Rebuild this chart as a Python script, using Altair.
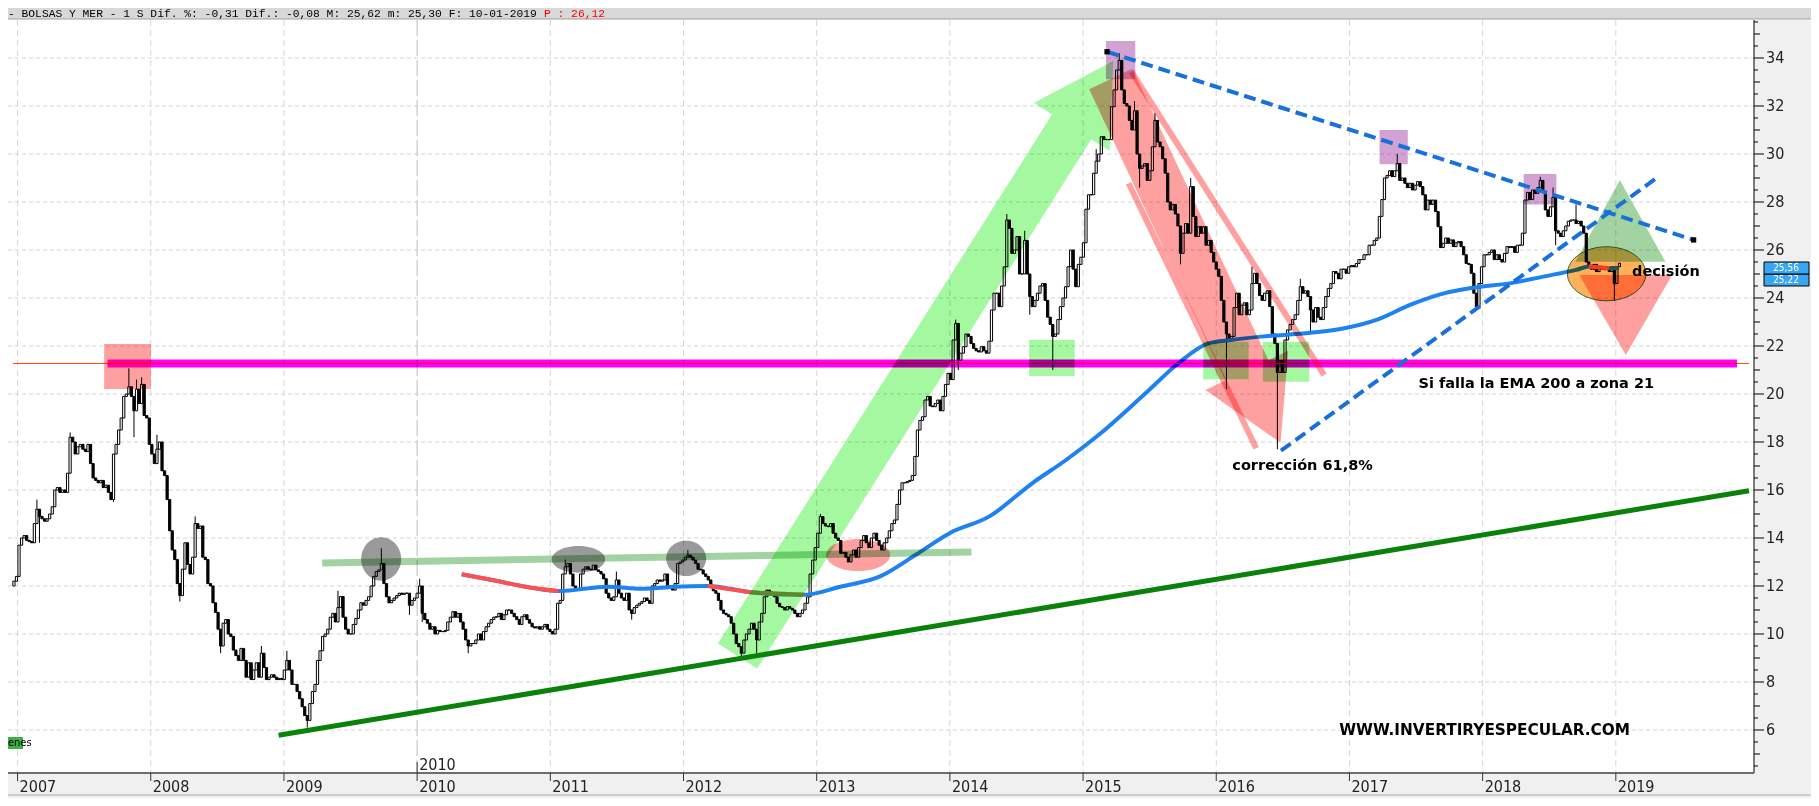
import altair as alt
import numpy as np
import pandas as pd

# ---------------- weekly closes (Fridays, first bar 2006-12-22) ----------------
wk_a = [  # weeks 0-129
    12.2, 12.4, 13.7, 14.0, 14.1, 13.9, 13.85, 13.8, 14.6, 15.2,
    14.9, 14.8, 14.7, 14.8, 15.0, 15.3, 16.0, 16.1, 15.9, 16.0,
    15.9, 16.7, 18.2, 18.0, 17.5, 17.8, 17.9, 17.7, 17.6, 17.9,
    17.1, 16.5, 16.4, 16.3, 16.4, 16.1, 16.2, 15.9, 15.6, 17.5,
    17.9, 18.5, 19.0, 19.9, 20.0, 20.3, 19.9, 19.3, 20.2, 19.6,
    20.4, 19.1, 19.0, 17.9, 17.5, 17.1, 17.7, 18.0, 16.8, 16.6,
    15.6, 14.3, 13.5, 13.1, 12.1, 11.6, 12.7, 13.8, 12.9, 12.5,
    13.2, 14.6, 14.4, 14.5, 13.2, 13.1, 12.1, 12.0, 11.3, 10.9,
    10.2, 9.5, 10.45, 10.6, 10.0, 9.9, 9.33, 9.1, 8.9, 9.4,
    8.9, 8.2, 8.8, 8.1, 8.5, 8.8, 8.2, 9.2, 8.6, 8.1,
    8.2, 8.3, 8.2, 8.1, 8.15, 8.1, 8.5, 8.9, 8.5, 7.9,
    7.9, 7.6, 7.3, 6.97, 6.6, 6.4, 7.1, 7.6, 7.9, 8.9,
    9.3, 9.9, 10.0, 10.2, 10.7, 10.86, 10.5, 11.1, 11.56, 10.7,
]
wk_b = [  # weeks 130-259
    10.2, 10.0, 10.0, 10.4, 10.65, 11.0, 11.3, 11.2, 11.4, 11.55,
    12.0, 12.4, 12.6, 12.67, 12.94, 12.1, 11.55, 11.3, 11.4, 11.5,
    11.6, 11.7, 11.65, 11.7, 11.7, 11.2, 11.4, 11.5, 11.7, 12.0,
    10.86, 10.6, 10.45, 10.2, 10.3, 10.0, 10.15, 10.1, 10.1, 10.15,
    10.5, 10.7, 10.93, 10.7, 10.86, 10.5, 10.2, 9.75, 9.5, 9.6,
    9.6, 9.75, 10.0, 9.75, 10.1, 10.3, 10.45, 10.6, 10.7, 10.72,
    10.86, 10.6, 10.8, 11.0, 11.0, 10.86, 10.72, 10.6, 10.4, 10.72,
    10.8, 10.6, 10.45, 10.3, 10.25, 10.3, 10.2, 10.3, 10.4, 10.2,
    10.1, 10.0, 10.2, 11.28, 11.4, 12.5, 12.8, 12.94, 12.5, 12.0,
    11.9, 11.83, 12.5, 12.7, 12.8, 12.7, 12.67, 12.87, 12.67, 12.6,
    12.5, 12.3, 11.7, 11.5, 11.4, 11.55, 12.25, 11.7, 11.5, 11.4,
    11.7, 11.0, 10.86, 11.1, 11.2, 11.28, 11.35, 11.5, 11.4, 11.28,
    12.0, 12.1, 12.25, 12.2, 12.25, 12.5, 12.0, 11.9, 11.83, 12.1,
]
wk_c = [  # weeks 260-389
    12.94, 13.0, 13.08, 13.2, 13.29, 13.2, 13.08, 12.94, 12.7, 12.67,
    12.5, 12.4, 12.25, 12.0, 11.8, 11.7, 11.4, 11.0, 10.86, 10.8,
    10.72, 10.45, 10.0, 9.6, 9.47, 9.2, 9.75, 10.0, 10.2, 10.45,
    10.2, 9.75, 10.5, 10.86, 11.55, 11.83, 11.75, 11.7, 11.55, 11.28,
    11.14, 11.1, 11.0, 11.14, 11.07, 11.0, 10.86, 10.72, 10.86, 11.0,
    11.28, 11.55, 12.5, 13.08, 13.6, 14.2, 14.89, 14.6, 14.5, 14.47,
    14.6, 14.2, 14.0, 13.9, 13.36, 13.4, 13.2, 13.0, 13.3, 13.5,
    13.2, 13.6, 13.9, 14.1, 13.8, 13.6, 14.0, 14.2, 13.9, 13.7,
    13.5, 13.8, 14.0, 14.3, 14.6, 14.75, 15.4, 16.0, 16.3, 16.3,
    16.35, 16.4, 16.6, 17.4, 18.5, 18.9, 19.05, 19.75, 19.9, 19.5,
    19.47, 19.6, 19.75, 19.3, 19.9, 20.4, 20.86, 20.6, 22.25, 22.94,
    21.4, 21.7, 21.97, 22.5, 22.4, 22.1, 21.9, 21.8, 21.75, 21.97,
    21.8, 21.7, 22.2, 23.5, 24.2, 24.2, 23.64, 24.5, 25.3, 27.25,
]
wk_d = [  # weeks 390-519
    26.9, 25.86, 26.0, 26.56, 25.0, 25.0, 26.4, 25.0, 24.06, 23.64,
    23.9, 24.2, 24.5, 24.6, 23.9, 23.2, 22.9, 22.4, 22.5, 23.1,
    23.64, 24.0, 24.47, 25.3, 26.0, 25.2, 24.47, 25.4, 25.7, 26.3,
    27.7, 28.3, 28.3, 29.2, 29.7, 30.0, 30.72, 30.6, 30.6, 30.6,
    31.97, 32.67, 33.5, 33.9, 32.67, 32.1, 32.0, 31.4, 31.0, 31.8,
    30.0, 29.4, 29.5, 29.6, 28.9, 29.3, 30.3, 31.4, 30.5, 30.3,
    29.8, 29.2, 28.0, 27.67, 27.9, 27.5, 27.0, 25.86, 26.7, 27.1,
    26.7, 28.64, 27.4, 26.56, 26.97, 26.7, 26.97, 26.2, 26.4, 25.9,
    25.5, 25.2, 24.9, 23.9, 23.0, 22.5, 22.25, 22.4, 23.6, 24.2,
    23.3, 23.7, 23.8, 23.3, 23.5, 24.6, 25.03, 24.6, 24.1, 23.9,
    24.2, 24.3, 23.64, 22.5, 22.1, 20.9, 21.4, 20.9, 22.25, 22.67,
    22.9, 23.1, 23.3, 23.9, 24.47, 24.2, 24.3, 24.06, 23.5, 23.0,
    23.6, 23.2, 23.1, 23.6, 24.06, 24.4, 24.6, 25.1, 25.03, 24.8,
]
wk_e = [  # weeks 520-629
    25.2, 25.2, 25.03, 25.3, 25.35, 25.3, 25.44, 25.6, 25.6, 25.8,
    25.8, 26.2, 26.2, 26.4, 26.5, 27.4, 28.1, 29.0, 29.1, 29.3,
    29.06, 29.3, 29.6, 28.9, 29.0, 28.78, 28.6, 28.78, 28.5, 28.7,
    28.85, 28.64, 28.3, 27.67, 28.08, 27.9, 28.08, 27.6, 26.97, 26.1,
    26.28, 26.5, 26.28, 26.42, 26.14, 26.3, 26.35, 26.14, 25.8, 25.44,
    25.4, 25.03, 24.2, 23.64, 24.6, 25.3, 25.8, 25.8, 25.9, 26.0,
    25.6, 25.8, 25.6, 25.5, 25.86, 26.14, 26.1, 26.14, 25.9, 26.2,
    26.2, 26.7, 28.08, 28.4, 28.1, 28.5, 28.36, 28.6, 28.9, 28.4,
    27.67, 27.4, 27.8, 28.2, 26.8, 26.7, 26.56, 26.8, 27.0, 27.2,
    27.25, 27.25, 27.1, 27.2, 27.0, 26.7, 25.5, 25.3, 25.2, 25.4,
    25.1, 25.3, 25.2, 25.25, 25.2, 25.1, 25.3, 24.6, 25.3, 25.45,
]
first_open = 12.0
hi_week = [9, 22, 45, 48, 50, 56, 71, 97, 107, 127, 144, 159, 216, 236, 264,
           316, 369, 389, 396, 424, 433, 439, 447, 461, 485, 504, 542, 598, 603, 612]
hi_val = [15.6, 18.4, 21.07, 20.6, 20.7, 18.3, 14.9, 9.5, 9.3, 11.8, 13.57, 12.3, 13.1, 12.6, 13.5,
          15.0, 23.1, 27.5, 26.8, 30.2, 34.2, 32.2, 31.7, 29.0, 25.3, 24.8, 30.0, 29.05, 28.6, 27.9]
lo_week = [10, 39, 47, 65, 81, 115, 155, 160, 178, 242, 285, 291, 370, 398, 407,
           441, 457, 475, 495, 508, 573, 604, 627]
lo_val = [13.8, 15.5, 18.2, 11.35, 9.2, 6.1, 10.8, 10.5, 9.2, 10.6, 8.9, 9.2, 21.0, 23.3, 21.0,
          28.6, 25.4, 20.2, 17.7, 22.6, 23.5, 26.2, 23.9]

# EMA 200 (decimal year, value)
ema_t = [2010.335, 2010.564, 2010.813, 2011.062, 2011.435, 2011.684, 2011.932, 2012.182,
         2012.505, 2012.903, 2013.177, 2013.476, 2013.744, 2013.998, 2014.297,
         2014.618, 2014.872, 2015.118, 2015.469, 2015.716, 2015.940, 2016.111, 2016.335,
         2016.708, 2016.962, 2017.208, 2017.455, 2017.709, 2017.933, 2018.201, 2018.455,
         2018.702, 2018.799, 2018.948, 2019.023]
ema_v = [12.49, 12.25, 11.97, 11.79, 11.97, 11.88, 11.97, 12.0, 11.74, 11.63, 11.97,
         12.4, 13.3, 14.2, 14.9, 16.28, 17.25, 18.3, 20.03, 21.28, 22.11, 22.25, 22.39,
         22.55, 22.74, 23.1, 23.71, 24.19, 24.43, 24.61, 24.89, 25.17, 25.31, 25.24, 25.24]
# coloured stretches of the EMA: (first knot, last knot, colour)
ema_runs = [(0, 3, "#ff5050"), (7, 8, "#ff5050"), (8, 9, "#9a8a3a"), (32, 33, "#ff5050")]

year_ticks = list(range(2007, 2020))
price_labels = list(range(6, 35, 2))
last_prices = ["25,56", "25,22"]

# ---------------- layout ----------------
W, H = 1746, 753
PAD = {"left": 0, "top": 12, "right": 57, "bottom": 25}
X_DOM = [2006.9657, 2020.0]
Y_DOM = [4.208, 35.583]
xsc = alt.Scale(domain=X_DOM, nice=False, zero=False)
ysc = alt.Scale(domain=Y_DOM, nice=False, zero=False)


def XQ(f):
    return alt.X(f, type="quantitative", scale=xsc, axis=None)


def YQ(f):
    return alt.Y(f, type="quantitative", scale=ysc, axis=None)


one = pd.DataFrame({"a": [0]})

# ---------------- candles ----------------
closes = wk_a + wk_b + wk_c + wk_d + wk_e
n = len(closes)
dates = pd.date_range("2006-12-22", periods=n, freq="W-FRI")
t = dates.year + (dates.dayofyear - 1) / np.where(dates.is_leap_year, 366, 365)
opens = [first_open] + closes[:-1]
hi = [max(o, c) for o, c in zip(opens, closes)]
lo = [min(o, c) for o, c in zip(opens, closes)]
body_hi = list(hi)
body_lo = list(lo)
for w, v in zip(hi_week, hi_val):
    hi[w] = max(hi[w], v)
for w, v in zip(lo_week, lo_val):
    lo[w] = min(lo[w], v)
cdf = pd.DataFrame({"t": t, "o": opens, "c": closes, "hi": hi, "lo": lo,
                    "bh": body_hi, "bl": body_lo})
cdf["col"] = np.where(cdf["c"] >= cdf["o"], "white", "black")

wicks = alt.Chart(cdf).mark_rule(color="black", strokeWidth=1).encode(
    x=XQ("t"), y=YQ("lo"), y2="hi")
bodies = alt.Chart(cdf).mark_bar(width=2.2, stroke="black", strokeWidth=1).encode(
    x=XQ("t"), y=YQ("bl"), y2="bh", fill=alt.Fill("col:N", scale=None))

# ---------------- grid ----------------
gh = alt.Chart(pd.DataFrame({"v": price_labels})).mark_rule(
    color="#d6d6d6", strokeDash=[4, 3], strokeWidth=1).encode(
    y=YQ("v"), x=alt.value(0), x2=alt.value(W))
gv = alt.Chart(pd.DataFrame({"yr": [y for y in year_ticks if y != 2010]})).mark_rule(
    color="#d6d6d6", strokeDash=[6, 4], strokeWidth=1).encode(
    x=XQ("yr"), y=alt.value(0), y2=alt.value(H))
gv2010 = alt.Chart(pd.DataFrame({"yr": [2010]})).mark_rule(
    color="#bdbdbd", strokeDash=[16, 4], strokeWidth=1).encode(
    x=XQ("yr"), y=alt.value(0), y2=alt.value(H))

# ---------------- EMA ----------------
edf = pd.DataFrame({"t": ema_t, "v": ema_v})
ema = alt.Chart(edf).mark_line(strokeWidth=4, strokeCap="butt", interpolate="monotone",
                               color="#1e82f0").encode(x=XQ("t"), y=YQ("v"))
run_rows = []
for r, (a, b, col) in enumerate(ema_runs):
    for k in range(a, b + 1):
        run_rows.append({"t": ema_t[k], "v": ema_v[k], "run": r, "col": col})
ema_red = alt.Chart(pd.DataFrame(run_rows)).mark_line(
    strokeWidth=4, strokeCap="butt", interpolate="monotone").encode(
    x=XQ("t"), y=YQ("v"), detail="run:N", color=alt.Color("col:N", scale=None))


# ---------------- helpers for annotations ----------------
def poly(xs, ys, fill):
    d = pd.DataFrame({"t": xs + xs[:1], "v": ys + ys[:1], "k": list(range(len(xs) + 1))})
    return alt.Chart(d).mark_line(fill=fill, stroke=fill, strokeOpacity=0,
                                  blend="multiply").encode(
        x=XQ("t"), y=YQ("v"), order="k:Q")


def rects(x1, x2, y1, y2, fill):
    d = pd.DataFrame({"x1": x1, "x2": x2, "y1": y1, "y2": y2})
    return alt.Chart(d).mark_rect(fill=fill, blend="multiply").encode(
        x=XQ("x1"), x2="x2", y=YQ("y1"), y2="y2")


def seg(x1, y1, x2, y2, color, width, dash=None, blend=None, cap="butt"):
    d = pd.DataFrame({"x1": [x1], "x2": [x2], "y1": [y1], "y2": [y2]})
    kw = dict(color=color, strokeWidth=width, strokeCap=cap)
    if dash:
        kw["strokeDash"] = dash
    if blend:
        kw["blend"] = blend
    return alt.Chart(d).mark_rule(**kw).encode(x=XQ("x1"), x2="x2", y=YQ("y1"), y2="y2")


def ellipse_path(ratio, npts=60):
    pts = []
    for k in range(npts):
        a = 2 * np.pi * k / npts
        pts.append(f"{np.cos(a):.4f},{ratio * np.sin(a):.4f}")
    return "M" + " L".join(pts) + " Z"


def ellipse(tc, vc, rx, ry, fill, stroke=None):
    d = pd.DataFrame({"t": [tc], "v": [vc]})
    kw = dict(shape=ellipse_path(ry / rx), size=(2 * rx) ** 2, filled=True, fill=fill,
              opacity=1, blend="multiply")
    if stroke:
        kw.update(stroke=stroke, strokeWidth=1)
    else:
        kw.update(strokeWidth=0)
    return alt.Chart(d).mark_point(**kw).encode(x=XQ("t"), y=YQ("v"))


def label(tc, vc, text, size=14.5, color="black", align="center", font="DejaVu Sans",
          weight="bold"):
    d = pd.DataFrame({"t": [tc], "v": [vc], "s": [text]})
    return alt.Chart(d).mark_text(align=align, baseline="middle", fontSize=size,
                                  font=font, fontWeight=weight, color=color).encode(
        x=XQ("t"), y=YQ("v"), text="s:N")


# ---------------- annotations ----------------
orange_thin = seg(X_DOM[0], 21.27, X_DOM[1], 21.27, "#ff4a10", 1)
magenta = seg(2007.675, 21.27, 2019.910, 21.27, "#ff00ff", 8, blend="multiply")

box_2007 = rects([2007.650], [2008.001], [20.21], [22.08], "#ffa0a0")
green_boxes = rects([2014.595, 2015.902, 2016.350], [2014.937, 2016.243, 2016.699],
                    [20.75, 20.61, 20.51], [22.25, 22.18, 22.18], "#a4f9a0")
purple_boxes = rects([2015.172, 2017.226, 2018.308], [2015.392, 2017.438, 2018.554],
                     [33.11, 29.57, 27.90], [34.71, 31.0, 29.17], "#d2a2d2")

green_arrow = poly([2012.258, 2014.767, 2014.631, 2015.227, 2015.199, 2015.062, 2012.553],
                   [9.60, 31.65, 32.14, 33.875, 30.13, 30.61, 8.56], "#a4f9a0")
pink_arrow = poly([2015.046, 2016.068, 2015.919, 2016.483, 2016.540, 2016.392, 2015.370],
                  [32.70, 20.56, 20.17, 17.97, 21.80, 21.41, 33.55], "#ffa0a0")
pink_stripe1 = seg(2015.342, 28.78, 2016.300, 17.74, "#ffa0a0", 6, blend="multiply")
pink_stripe2 = seg(2015.364, 33.42, 2016.810, 20.79, "#ffa0a0", 6, blend="multiply")

res_line = seg(2009.287, 12.96, 2014.162, 13.42, "#a2d2a2", 7, blend="multiply")
gray1 = ellipse(2009.730, 13.125, 20, 21.7, "#9a9a9a")
gray2 = ellipse(2011.211, 13.11, 26.7, 13.3, "#9a9a9a")
gray3 = ellipse(2012.020, 13.15, 20, 17.7, "#9a9a9a")
pink_ell = ellipse(2013.311, 13.29, 32, 16, "#ffa0a0")
orange_ell = ellipse(2018.931, 25.01, 39.2, 27, "#ffb05a", stroke="#2f6b2f")
green_tri = poly([2019.030, 2018.696, 2019.373], [28.92, 25.51, 25.51], "#a3d3a3")
pink_tri = poly([2018.726, 2019.423, 2019.075], [24.96, 24.96, 21.625], "#ffa0a0")

support = seg(2008.96, 5.78, 2020.0, 15.97, "#0a820a", 5)
dash_down = seg(2015.18, 34.26, 2019.584, 26.42, "#1a70da", 4, dash=[12, 6])
dash_up = seg(2016.486, 17.64, 2019.306, 29.0, "#1a70da", 4, dash=[12, 6])
squares = alt.Chart(pd.DataFrame({"t": [2015.18, 2019.584], "v": [34.26, 26.42]})).mark_square(
    size=28, color="black", opacity=1).encode(x=XQ("t"), y=YQ("v"))

txt1 = label(2018.403, 20.42, "Si falla la EMA 200 a zona 21")
txt2 = label(2019.376, 25.10, "decisión")
txt3 = label(2016.648, 17.0, "corrección 61,8%")
txt4 = label(2018.015, 5.98, "WWW.INVERTIRYESPECULAR.COM", size=15.3)

# ---------------- chrome (axes, bands, header) ----------------
AX_FONT = "Liberation Sans Narrow, DejaVu Sans Condensed, Arial Narrow, sans-serif"


def pix_rect(x, x2, y, y2, fill):
    return alt.Chart(one).mark_rect(fill=fill).encode(
        x=alt.value(x), x2=alt.value(x2), y=alt.value(y), y2=alt.value(y2))


right_band = pix_rect(W, W + PAD["right"], 0, H + PAD["bottom"], "#f0f0f0")
bottom_band = pix_rect(0, W + PAD["right"], H, H + PAD["bottom"], "#f0f0f0")
scroll_line = alt.Chart(one).mark_rule(color="#a8a8a8").encode(
    x=alt.value(0), x2=alt.value(W + PAD["right"]), y=alt.value(H + 22))
header = pix_rect(0, W + PAD["right"], -PAD["top"], -1, "#d8d8d8")
header_line = alt.Chart(one).mark_rule(color="#a0a0a0").encode(
    x=alt.value(0), x2=alt.value(W + PAD["right"]), y=alt.value(-1))
header_txt = alt.Chart(one).mark_text(
    align="left", baseline="middle", font="Liberation Mono, DejaVu Sans Mono, monospace",
    fontSize=11.3, color="black").encode(
    x=alt.value(0), y=alt.value(-6),
    text=alt.value("- BOLSAS Y MER -  1 S Dif. %: -0,31 Dif.: -0,08 M: 25,62 m: 25,30 F: 10-01-2019"))
header_red = alt.Chart(one).mark_text(
    align="left", baseline="middle", font="Liberation Mono, DejaVu Sans Mono, monospace",
    fontSize=11.3, color="#ff0000").encode(
    x=alt.value(536), y=alt.value(-6), text=alt.value("P : 26,12"))

right_axis = alt.Chart(one).mark_rule(color="black", strokeWidth=1).encode(
    x=alt.value(W), y=alt.value(0), y2=alt.value(H))
bottom_axis = alt.Chart(one).mark_rule(color="#404040", strokeWidth=1.5).encode(
    x=alt.value(0), x2=alt.value(W), y=alt.value(H))

tick_vals = [k / 2 for k in range(9, 72)]
tdf = pd.DataFrame({"v": tick_vals})
tdf["kind"] = ["even" if (v % 2 == 0) else ("int" if v % 1 == 0 else "half") for v in tick_vals]
ticks_half = alt.Chart(tdf[tdf.kind == "half"]).mark_rule(color="black").encode(
    y=YQ("v"), x=alt.value(W), x2=alt.value(W + 4))
ticks_int = alt.Chart(tdf[tdf.kind != "half"]).mark_rule(color="black").encode(
    y=YQ("v"), x=alt.value(W), x2=alt.value(W + 6))
ticks_even = alt.Chart(tdf[tdf.kind == "even"]).mark_rule(color="black").encode(
    y=YQ("v"), x=alt.value(W + 6), x2=alt.value(W + 10))
ylab = alt.Chart(pd.DataFrame({"v": price_labels, "s": [str(v) for v in price_labels]})).mark_text(
    align="left", baseline="middle", font=AX_FONT, fontSize=16, color="#222222").encode(
    x=alt.value(W + 12), y=YQ("v"), text="s:N")

xt = alt.Chart(pd.DataFrame({"yr": year_ticks})).mark_rule(color="#333333").encode(
    x=XQ("yr"), y=alt.value(H), y2=alt.value(H + 8))
xlab = alt.Chart(pd.DataFrame({"yr": year_ticks, "s": [str(y) for y in year_ticks]})).mark_text(
    align="left", baseline="alphabetic", font=AX_FONT, fontSize=16, dx=2,
    color="#222222").encode(x=XQ("yr"), y=alt.value(H + 19), text="s:N")
x2010_tick = alt.Chart(pd.DataFrame({"yr": [2010]})).mark_rule(color="#333333").encode(
    x=XQ("yr"), y=alt.value(H - 11), y2=alt.value(H))
x2010_lab = alt.Chart(pd.DataFrame({"yr": [2010], "s": ["2010"]})).mark_text(
    align="left", baseline="alphabetic", font=AX_FONT, fontSize=16, dx=2,
    color="#222222").encode(x=XQ("yr"), y=alt.value(H - 3), text="s:N")

# last-price flags on the price axis, stacked between the "26" and "24" labels
pb = pd.DataFrame({"y1": [24.5, 25.0], "y2": [25.0, 25.5], "s": last_prices[::-1],
                   "ym": [24.75, 25.25]})
price_box = alt.Chart(pb).mark_rect(fill="#3aa6f0", stroke="black", strokeWidth=1).encode(
    y=YQ("y1"), y2="y2", x=alt.value(W + 10), x2=alt.value(W + 55))
price_txt = alt.Chart(pb).mark_text(align="center", baseline="middle", font=AX_FONT,
                                    fontSize=10, color="white").encode(
    y=YQ("ym"), x=alt.value(W + 32), text="s:N")

vol_box = pix_rect(0, 15, H - 36, H - 24, "#3cb043")
vol_txt = alt.Chart(one).mark_text(align="left", baseline="middle", font=AX_FONT,
                                   fontSize=11, color="black").encode(
    x=alt.value(0), y=alt.value(H - 30), text=alt.value("enes"))

layers = [
    gh, gv, gv2010,
    wicks, bodies, ema, ema_red,
    orange_thin, magenta, box_2007, green_boxes, purple_boxes,
    green_arrow, pink_arrow, pink_stripe1, pink_stripe2,
    res_line, gray1, gray2, gray3, pink_ell, orange_ell, green_tri, pink_tri,
    support, dash_down, dash_up, squares,
    txt1, txt2, txt3, txt4,
    right_band, bottom_band, scroll_line, header, header_line, header_txt, header_red,
    right_axis, bottom_axis, ticks_half, ticks_int, ticks_even, ylab,
    xt, xlab, x2010_tick, x2010_lab, price_box, price_txt, vol_box, vol_txt,
]

chart = alt.layer(*layers).properties(
    width=W, height=H,
    autosize=alt.AutoSizeParams(type="none"),
    padding=PAD,
).configure_view(stroke=None)

chart.save("out.html", embed_options={"renderer": "svg", "actions": False})
